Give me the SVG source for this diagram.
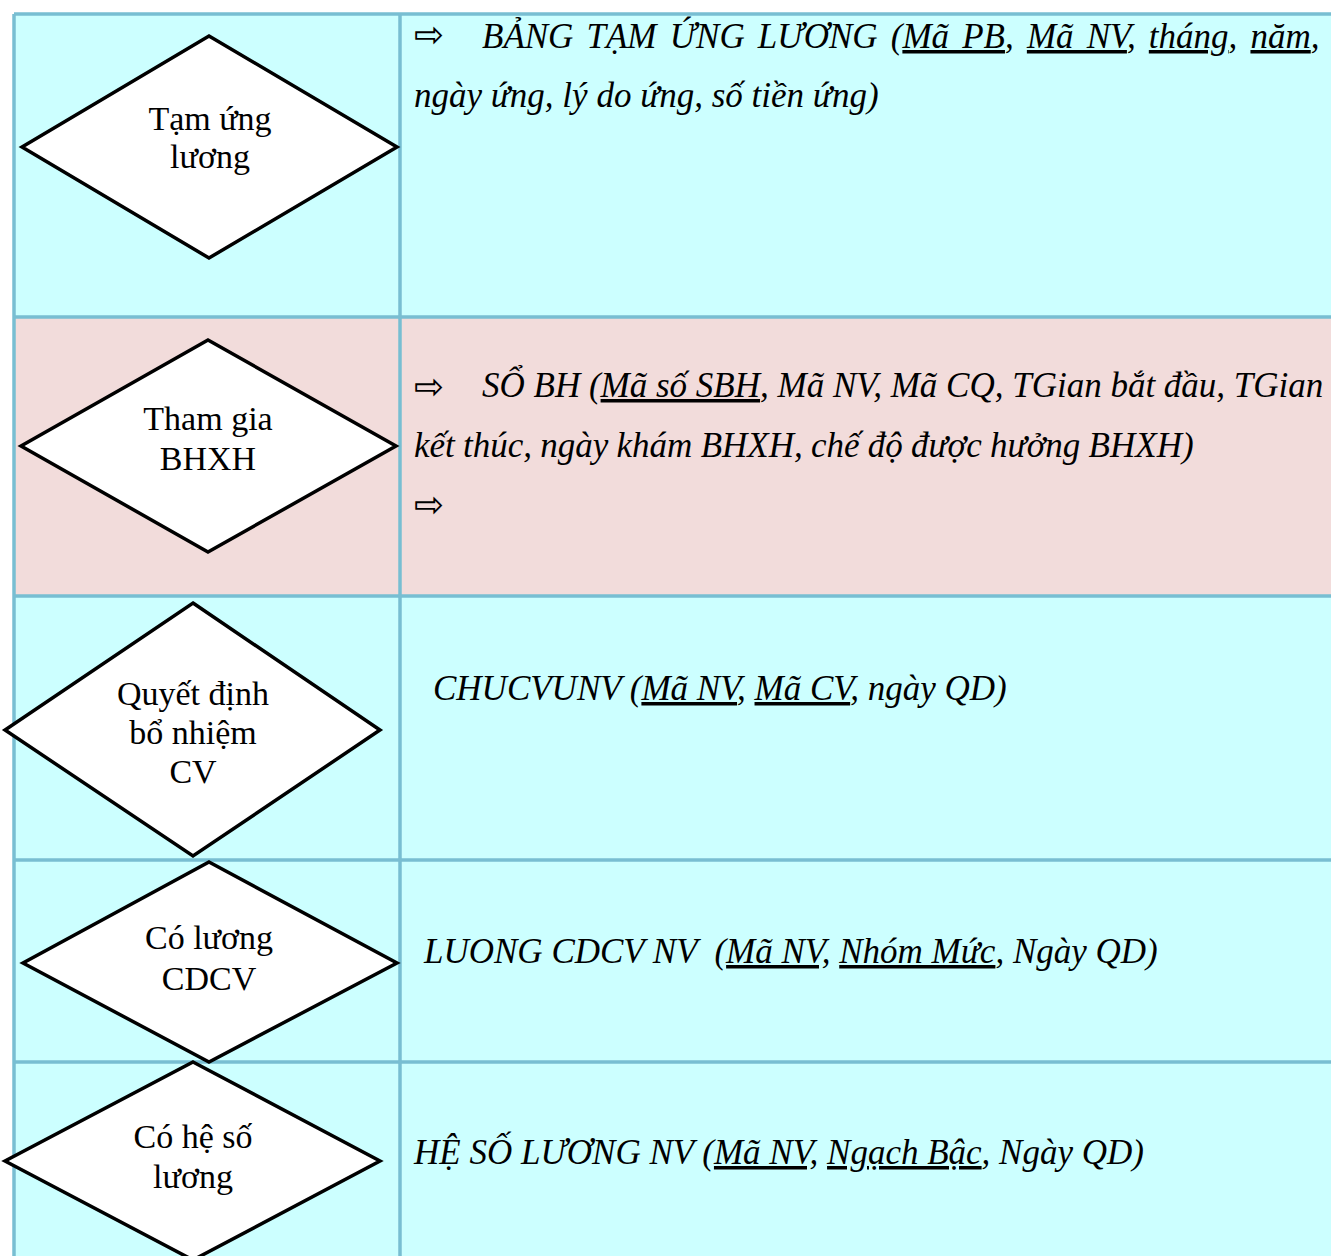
<svg xmlns="http://www.w3.org/2000/svg" width="1331" height="1256" viewBox="0 0 1331 1256">
<style>
.grid{stroke:#78BED2;stroke-width:3.5;fill:none}
.dia{fill:#ffffff;stroke:#000000;stroke-width:3.5;stroke-linejoin:miter}
.lbl{font-family:"Liberation Serif","Times New Roman",serif;font-size:34px;fill:#000;text-anchor:middle}
.rel{font-family:"Liberation Serif","Times New Roman",serif;font-size:35px;font-style:italic;fill:#000}
.arr{font-family:"DejaVu Sans",sans-serif;font-size:36px;fill:#000}
.u{text-decoration:underline}
</style>
<rect width="1331" height="1256" fill="#ffffff"/>
<g id="table">
<rect x="14" y="14" width="1317" height="303" fill="#CCFFFF"/>
<rect x="14" y="317" width="1317" height="279" fill="#F2DCDB"/>
<rect x="14" y="596" width="1317" height="660" fill="#CCFFFF"/>
<path class="grid" d="M14 14H1331M14 317H1331M14 596H1331M14 860H1331M14 1062H1331M14 14V1256M400 14V1256"/>
</g>
<g id="connectors"></g>
<g id="node-tam-ung">
<polygon class="dia" points="209,36 397,147 209,258 22,147"/>
<text class="lbl" x="210" y="130">Tạm ứng</text>
<text class="lbl" x="210" y="168">lương</text>
</g>
<g id="node-bhxh">
<polygon class="dia" points="208,340 396,446 208,552 21,446"/>
<text class="lbl" x="208" y="430">Tham gia</text>
<text class="lbl" x="208" y="470">BHXH</text>
</g>
<g id="node-quyet-dinh">
<polygon class="dia" points="193,603 380,730 193,856 5,730"/>
<text class="lbl" x="193" y="705">Quyết định</text>
<text class="lbl" x="193" y="744">bổ nhiệm</text>
<text class="lbl" x="193" y="783">CV</text>
</g>
<g id="node-luong-cdcv">
<polygon class="dia" points="209,862 397,963 209,1062 23,963"/>
<text class="lbl" x="209" y="949">Có lương</text>
<text class="lbl" x="209" y="990">CDCV</text>
</g>
<g id="node-he-so">
<polygon class="dia" points="193,1062 380,1161 193,1260 5,1161"/>
<text class="lbl" x="193" y="1148">Có hệ số</text>
<text class="lbl" x="193" y="1188">lương</text>
</g>
<g id="rel-tam-ung">
<text class="arr" x="414" y="47">⇨</text>
<text class="rel" x="482" y="48" word-spacing="4.4">BẢNG TẠM ỨNG LƯƠNG (<tspan class="u">Mã PB</tspan>, <tspan class="u">Mã NV</tspan>, <tspan class="u">tháng</tspan>, <tspan class="u">năm</tspan>,</text>
<text class="rel" x="414" y="107">ngày ứng, lý do ứng, số tiền ứng)</text>
</g>
<g id="rel-so-bh">
<text class="arr" x="414" y="399">⇨</text>
<text class="rel" x="482" y="397">SỔ BH (<tspan class="u">Mã số SBH</tspan>, Mã NV, Mã CQ, TGian bắt đầu, TGian</text>
<text class="rel" x="414" y="457" word-spacing="-0.5">kết thúc, ngày khám BHXH, chế độ được hưởng BHXH)</text>
<text class="arr" x="414" y="517">⇨</text>
</g>
<g id="rel-chucvu">
<text class="rel" x="433" y="700">CHUCVUNV (<tspan class="u">Mã NV</tspan>, <tspan class="u">Mã CV</tspan>, ngày QD)</text>
</g>
<g id="rel-luong-cdcv">
<text class="rel" x="424" y="963" xml:space="preserve">LUONG CDCV NV  (<tspan class="u">Mã NV,</tspan> <tspan class="u">Nhóm Mức</tspan>, Ngày QD)</text>
</g>
<g id="rel-he-so">
<text class="rel" x="414" y="1164">HỆ SỐ LƯƠNG NV (<tspan class="u">Mã NV,</tspan> <tspan class="u">Ngạch Bậc</tspan>, Ngày QD)</text>
</g>
</svg>
